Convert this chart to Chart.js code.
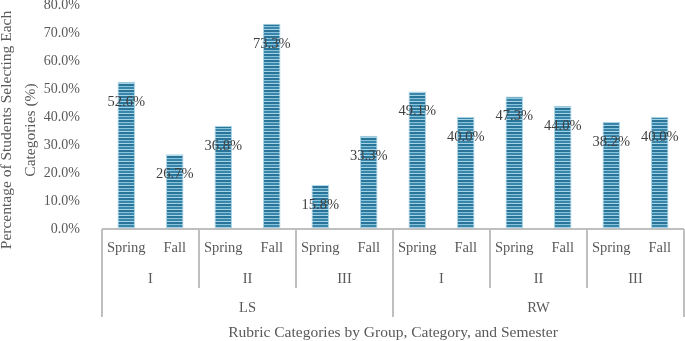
<!DOCTYPE html>
<html lang="en">
<head>
    <meta charset="UTF-8" />
    <title>Rubric Categories by Group, Category, and Semester</title>
    <script src="https://cdn.jsdelivr.net/npm/chart.js"></script>
    <style>
        html, body { margin: 0; padding: 0; background: #fff; }
        #wrap { width: 685px; height: 341px; position: relative; }
    </style>
</head>
<body>
    <div id="wrap"><canvas id="grafica"></canvas></div>

    <script>
        // datos
        const semestres = ["Spring", "Fall", "Spring", "Fall", "Spring", "Fall", "Spring", "Fall", "Spring", "Fall", "Spring", "Fall"];
        const categorias = ["I", "II", "III", "I", "II", "III"];
        const grupos = ["LS", "RW"];
        const valores = [52.6, 26.7, 36.8, 73.3, 15.8, 33.3, 49.1, 40.0, 47.3, 44.0, 38.2, 40.0];
        const ticksY = [0, 10, 20, 30, 40, 50, 60, 70, 80];

        const tituloY = ["Percentage of Students Selecting Each", "Categories (%)"];
        const tituloX = "Rubric Categories by Group, Category, and Semester";

        const FUENTE = '"Liberation Serif", "DejaVu Serif", serif';
        const GRIS = '#595959';
        const LINEA = '#bfbfbf';

        // relleno con rayas horizontales
        function patronRayas() {
            const c = document.createElement('canvas');
            c.width = 4; c.height = 6;
            const g = c.getContext('2d');
            g.fillStyle = '#2a7498'; g.fillRect(0, 0, 4, 2);
            g.fillStyle = '#86c3dc'; g.fillRect(0, 2, 4, 1);
            g.fillStyle = '#3a86aa'; g.fillRect(0, 3, 4, 2);
            g.fillStyle = '#a3d3e6'; g.fillRect(0, 5, 4, 1);
            return g.createPattern(c, 'repeat');
        }

        // ejes de varios niveles, etiquetas y titulos
        const ejeMultinivel = {
            id: 'ejeMultinivel',
            afterDatasetsDraw(chart) {
                const ctx = chart.ctx;
                const area = chart.chartArea;
                const x = chart.scales.x;
                const n = semestres.length;
                const paso = (area.right - area.left) / n;
                const base = area.bottom;

                ctx.save();
                // etiquetas de datos
                ctx.font = '14.5px ' + FUENTE;
                ctx.fillStyle = '#404040';
                ctx.textAlign = 'center';
                ctx.textBaseline = 'middle';
                const meta = chart.getDatasetMeta(0);
                meta.data.forEach((bar, i) => {
                    ctx.fillText(valores[i].toFixed(1) + '%', bar.x, bar.y + 20);
                });

                // linea base
                ctx.strokeStyle = LINEA;
                ctx.lineWidth = 2;
                ctx.beginPath();
                ctx.moveTo(area.left, base);
                ctx.lineTo(area.right, base);
                ctx.stroke();

                // separadores
                for (let i = 0; i <= n; i += 2) {
                    const xx = area.left + i * paso;
                    const largo = (i % 6 === 0) ? 88 : 59;
                    ctx.beginPath();
                    ctx.moveTo(xx, base);
                    ctx.lineTo(xx, base + largo);
                    ctx.stroke();
                }

                ctx.font = '14.5px ' + FUENTE;
                ctx.fillStyle = GRIS;
                semestres.forEach((s, i) => {
                    ctx.fillText(s, x.getPixelForValue(i), base + 19);
                });
                categorias.forEach((c, i) => {
                    ctx.fillText(c, area.left + (i * 2 + 1) * paso, base + 50);
                });
                grupos.forEach((g, i) => {
                    ctx.fillText(g, area.left + (i * 6 + 3) * paso, base + 79);
                });
                ctx.font = '15.5px ' + FUENTE;
                ctx.fillText(tituloX, (area.left + area.right) / 2 + 0, base + 104);

                // titulo eje y
                ctx.translate(0, 130);
                ctx.rotate(-Math.PI / 2);
                ctx.fillText(tituloY[0], 0, 7);
                ctx.fillText(tituloY[1], 0, 31);
                ctx.restore();
            }
        };

        const ctx = document.getElementById('grafica').getContext('2d');
        new Chart(ctx, {
            type: 'bar',
            data: {
                labels: semestres,
                datasets: [{
                    data: valores,
                    backgroundColor: patronRayas(),
                    borderColor: '#a9d3e4',
                    borderWidth: { left: 1, right: 1, top: 1, bottom: 0 },
                    barPercentage: 0.36,
                    categoryPercentage: 1
                }]
            },
            options: {
                responsive: true,
                maintainAspectRatio: false,
                animation: false,
                layout: { padding: { top: 5, right: 1, bottom: 112, left: 0 } },
                plugins: {
                    legend: { display: false },
                    tooltip: { enabled: false }
                },
                scales: {
                    x: {
                        display: false
                    },
                    y: {
                        min: 0,
                        max: 80,
                        afterBuildTicks(scale) {
                            scale.ticks = ticksY.map(v => ({ value: v }));
                        },
                        afterFit(scale) {
                            scale.width = 102;
                            scale.paddingTop = 0;
                            scale.paddingBottom = 0;
                        },
                        grid: { display: false },
                        border: { display: false },
                        ticks: {
                            padding: 14,
                            color: GRIS,
                            font: { family: FUENTE, size: 14 },
                            callback: v => v.toFixed(1) + '%'
                        }
                    }
                }
            },
            plugins: [ejeMultinivel]
        });
    </script>
</body>
</html>
